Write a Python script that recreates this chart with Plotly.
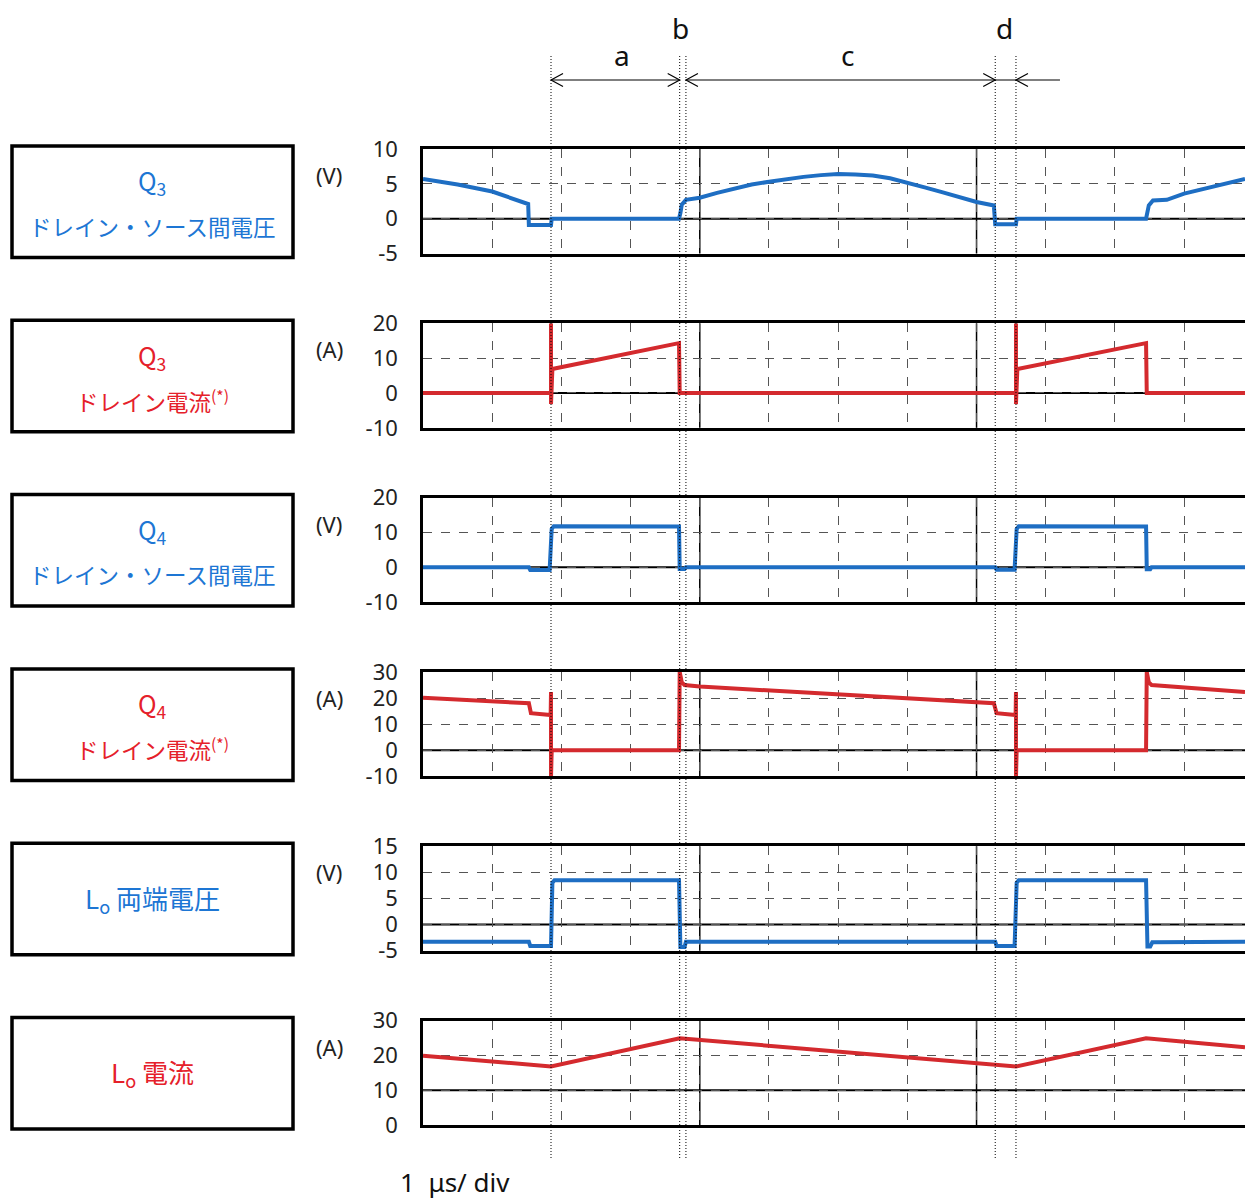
import plotly.graph_objects as go

# ---------------- data (time in µs, 1 µs/div) ----------------
q3_vds_t = [0, 0.5, 1.0, 1.25, 1.52, 1.53, 1.85, 1.86, 3.70, 3.72, 3.74, 3.80, 4.0, 4.25, 4.5,
            4.75, 5.0, 5.25, 5.5, 5.75, 6.0, 6.25, 6.5, 6.75, 7.0, 7.25, 7.5, 7.75, 8.0, 8.25,
            8.27, 8.57, 8.58, 10.45, 10.47, 10.49, 10.55, 10.72, 10.75, 11.0, 11.25, 11.5, 11.88]
q3_vds_v = [5.7, 4.9, 3.9, 3.1, 2.1, -0.9, -0.9, 0, 0, 0.8, 2.0, 2.7, 3.0, 3.7, 4.3,
            4.9, 5.3, 5.7, 6.0, 6.25, 6.4, 6.35, 6.2, 5.8, 5.2, 4.5, 3.8, 3.1, 2.4, 1.9,
            -0.8, -0.8, 0, 0, 0.8, 1.9, 2.6, 2.8, 2.7, 3.6, 4.2, 4.8, 5.7]

q3_id_t = [0, 1.85, 1.85, 1.85, 1.87, 3.70, 3.71, 8.57, 8.57, 8.57, 8.59, 10.45, 10.46, 11.88]
q3_id_v = [0, 0, 20, -3.2, 6.9, 14.3, 0, 0, 20, -3.2, 6.9, 14.3, 0, 0]

q4_vds_t = [0, 1.53, 1.55, 1.83, 1.86, 1.89, 3.70, 3.71, 3.78, 3.80, 8.27, 8.29, 8.55, 8.58,
            8.61, 10.45, 10.46, 10.51, 10.53, 11.88]
q4_vds_v = [0, 0, -0.8, -0.8, 11.0, 11.8, 11.7, -0.5, -0.5, 0, 0, -0.7, -0.7, 11.0,
            11.8, 11.7, -0.6, -0.6, 0, 0]

q4_id_t = [0, 1.53, 1.56, 1.81, 1.845, 1.85, 1.85, 1.86, 3.70, 3.71, 3.74, 3.78, 4.0, 5.0, 6.0,
           7.0, 8.0, 8.25, 8.29, 8.53, 8.565, 8.57, 8.57, 8.58, 10.45, 10.46, 10.49, 10.53, 11.88]
q4_id_v = [20.1, 18.0, 14.2, 13.5, 13.5, 22.3, -10.4, 0, 0, 30, 26.0, 25.0, 24.4, 22.9, 21.4,
           19.9, 18.4, 18.0, 14.2, 13.5, 13.5, 22.3, -10.4, 0, 0, 30, 26.0, 25.0, 22.3]

lo_v_t = [0, 1.53, 1.55, 1.85, 1.87, 1.90, 3.70, 3.72, 3.78, 3.80, 8.27, 8.29, 8.55, 8.58,
          8.61, 10.45, 10.47, 10.51, 10.54, 11.88]
lo_v_v = [-3.3, -3.3, -4.1, -4.1, 8.0, 8.5, 8.5, -4.3, -4.3, -3.3, -3.3, -4.1, -4.1, 8.0,
          8.5, 8.5, -4.2, -4.2, -3.4, -3.3]

lo_i_t = [0, 1.85, 3.71, 8.57, 10.45, 11.88]
lo_i_v = [19.9, 16.8, 24.9, 16.8, 24.9, 22.3]

series_t = [q3_vds_t, q3_id_t, q4_vds_t, q4_id_t, lo_v_t, lo_i_t]
series_v = [q3_vds_v, q3_id_v, q4_vds_v, q4_id_v, lo_v_v, lo_i_v]

y_ranges = [[-5, 10], [-10, 20], [-10, 20], [-10, 30], [-5, 15], [0, 30]]
y_ticks = [[-5, 0, 5, 10], [-10, 0, 10, 20], [-10, 0, 10, 20], [-10, 0, 10, 20, 30],
           [-5, 0, 5, 10, 15], [0, 10, 20, 30]]
ref_levels = [0, 0, 0, 0, 0, 10]
units = ["(V)", "(A)", "(V)", "(A)", "(V)", "(A)"]
kinds = ["v", "i", "v", "i", "v", "i"]
label_line1 = ["Q<sub>3</sub>", "Q<sub>3</sub>", "Q<sub>4</sub>", "Q<sub>4</sub>",
               "L<sub>o</sub> 両端電圧", "L<sub>o</sub> 電流"]
label_line2 = ["ドレイン・ソース間電圧", "ドレイン電流<sup>(*)</sup>", "ドレイン・ソース間電圧",
               "ドレイン電流<sup>(*)</sup>", None, None]

event_t = [1.85, 3.71, 3.80, 8.27, 8.57]
solid_div = [4, 8]
phase_labels = ["a", "b", "c", "d"]
phase_pos = [2.88, 3.72, 6.13, 8.40]
phase_row = [1, 0, 1, 0]

# ---------------- styling ----------------
PX_PER_DIV = 822 / 11.88
W, H = 1245, 1201
PLOT_L, PLOT_T, PLOT_B = 423, 149, 1125          # page pixels
ML, MR, MT = PLOT_L, 0, PLOT_T
MB = H - PLOT_B
PH = PLOT_B - PLOT_T
PW = W - ML - MR
x_range = [0, PW / PX_PER_DIV]
panel_h = 104.5
panel_step = (PH - panel_h) / 5
BLUE_LINE = "#1e6ec3"
RED_LINE = "#d42a2e"
BLUE_TXT = "#1d76d4"
RED_TXT = "#e5202a"
JP = "Noto Sans CJK JP"
NUM = "Noto Sans"


def ppy(py):
    return (PLOT_B - py) / PH


def ppx(px):
    return (px - PLOT_L) / PW


def clamp(v):
    return min(1.0, max(0.0, v))


fig = go.Figure()
shapes = []
annots = []
layout = {}

for i in range(6):
    n = i + 1
    xa = "x" if n == 1 else f"x{n}"
    ya = "y" if n == 1 else f"y{n}"
    top_px = PLOT_T + panel_step * i
    bot_px = top_px + panel_h
    dom = [clamp(ppy(bot_px)), clamp(ppy(top_px))]
    color = BLUE_LINE if kinds[i] == "v" else RED_LINE
    fig.add_trace(go.Scatter(x=series_t[i], y=series_v[i], mode="lines",
                             line=dict(color=color, width=4), xaxis=xa, yaxis=ya,
                             showlegend=False, hoverinfo="skip"))
    layout[f"xaxis{'' if n == 1 else n}"] = dict(
        domain=[0, 1], anchor=ya, range=x_range, tick0=0, dtick=1,
        showticklabels=False, ticks="", showgrid=True, gridcolor="#555",
        griddash="dash", gridwidth=1, zeroline=False, showline=True,
        linecolor="black", linewidth=2.5, mirror=True,
        **({} if n == 1 else {"matches": "x"}))
    layout[f"yaxis{'' if n == 1 else n}"] = dict(
        domain=dom, anchor=xa, range=y_ranges[i], tickvals=y_ticks[i],
        ticktext=[str(v) for v in y_ticks[i]], ticks="", ticklabelstandoff=18,
        tickfont=dict(family=NUM, size=22, color="#222"),
        showgrid=True, gridcolor="#555", griddash="dash", gridwidth=1,
        zeroline=False, showline=True, linecolor="black", linewidth=2.5, mirror=False)
    # solid reference line
    shapes.append(dict(type="line", xref=f"{xa} domain", yref=ya, x0=0, x1=1,
                       y0=ref_levels[i], y1=ref_levels[i],
                       line=dict(color="black", width=2), layer="below"))
    for d in solid_div:
        shapes.append(dict(type="line", xref=xa, yref=f"{ya} domain", x0=d, x1=d,
                           y0=0, y1=1, line=dict(color="black", width=1.5), layer="below"))
    # left label box
    shapes.append(dict(type="rect", xref="paper", yref="paper",
                       x0=ppx(12), x1=ppx(293), y0=ppy(bot_px + 4), y1=ppy(top_px - 3),
                       line=dict(color="black", width=3.5), fillcolor="rgba(0,0,0,0)"))
    tcol = BLUE_TXT if kinds[i] == "v" else RED_TXT
    cy = (top_px - 3 + bot_px + 4) / 2
    if label_line2[i] is None:
        annots.append(dict(x=ppx(152), y=ppy(cy), xref="paper", yref="paper",
                           text=label_line1[i], showarrow=False, xanchor="center",
                           yanchor="middle", font=dict(family=JP, size=26, color=tcol)))
    else:
        annots.append(dict(x=ppx(152), y=ppy(cy - 20), xref="paper", yref="paper",
                           text=label_line1[i], showarrow=False, xanchor="center",
                           yanchor="middle", font=dict(family=JP, size=25, color=tcol)))
        annots.append(dict(x=ppx(152), y=ppy(cy + 24), xref="paper", yref="paper",
                           text=label_line2[i], showarrow=False, xanchor="center",
                           yanchor="middle", font=dict(family=JP, size=22.5, color=tcol)))
    annots.append(dict(x=ppx(329), y=ppy(top_px + 26), xref="paper", yref="paper",
                       text=units[i], showarrow=False, xanchor="center", yanchor="middle",
                       font=dict(family=NUM, size=22, color="#222")))

# event markers (dotted)
for t in event_t:
    shapes.append(dict(type="line", xref="x", yref="paper", x0=t, x1=t,
                       y0=ppy(1158), y1=ppy(55),
                       line=dict(color="black", width=1, dash="1px,2px")))

# phase arrows
ya_arr = ppy(80)
dxh = 12 / PX_PER_DIV
dyh = 6.5 / PH
shapes.append(dict(type="line", xref="x", yref="paper", x0=event_t[0], x1=event_t[1],
                   y0=ya_arr, y1=ya_arr, line=dict(color="black", width=1.2)))
end_c = event_t[4] + 44 / PX_PER_DIV
shapes.append(dict(type="line", xref="x", yref="paper", x0=event_t[2], x1=end_c,
                   y0=ya_arr, y1=ya_arr, line=dict(color="black", width=1.2)))
heads = [(event_t[0], -1), (event_t[1], 1), (event_t[2], -1), (event_t[3], 1), (event_t[4], -1)]
for t, direc in heads:
    xb = t - direc * dxh
    shapes.append(dict(type="path", xref="x", yref="paper",
                       path=f"M {xb} {ya_arr + dyh} L {t} {ya_arr} L {xb} {ya_arr - dyh}",
                       line=dict(color="black", width=1.2)))

for lab, pos, row in zip(phase_labels, phase_pos, phase_row):
    annots.append(dict(x=pos, y=ppy(28 if row == 0 else 55), xref="x", yref="paper",
                       text=lab, showarrow=False, xanchor="center", yanchor="middle",
                       font=dict(family=NUM, size=28, color="#111")))

annots.append(dict(x=ppx(398), y=ppy(1182), xref="paper", yref="paper",
                   text="1  μs/ div", showarrow=False, xanchor="left", yanchor="middle",
                   font=dict(family=NUM, size=26, color="#111")))

fig.update_layout(width=W, height=H, margin=dict(l=ML, r=MR, t=MT, b=MB),
                  paper_bgcolor="white", plot_bgcolor="white",
                  shapes=shapes, annotations=annots, showlegend=False, **layout)
fig.write_html("out.html", config={"displayModeBar": False},
               post_script="document.body.style.margin='0';")
